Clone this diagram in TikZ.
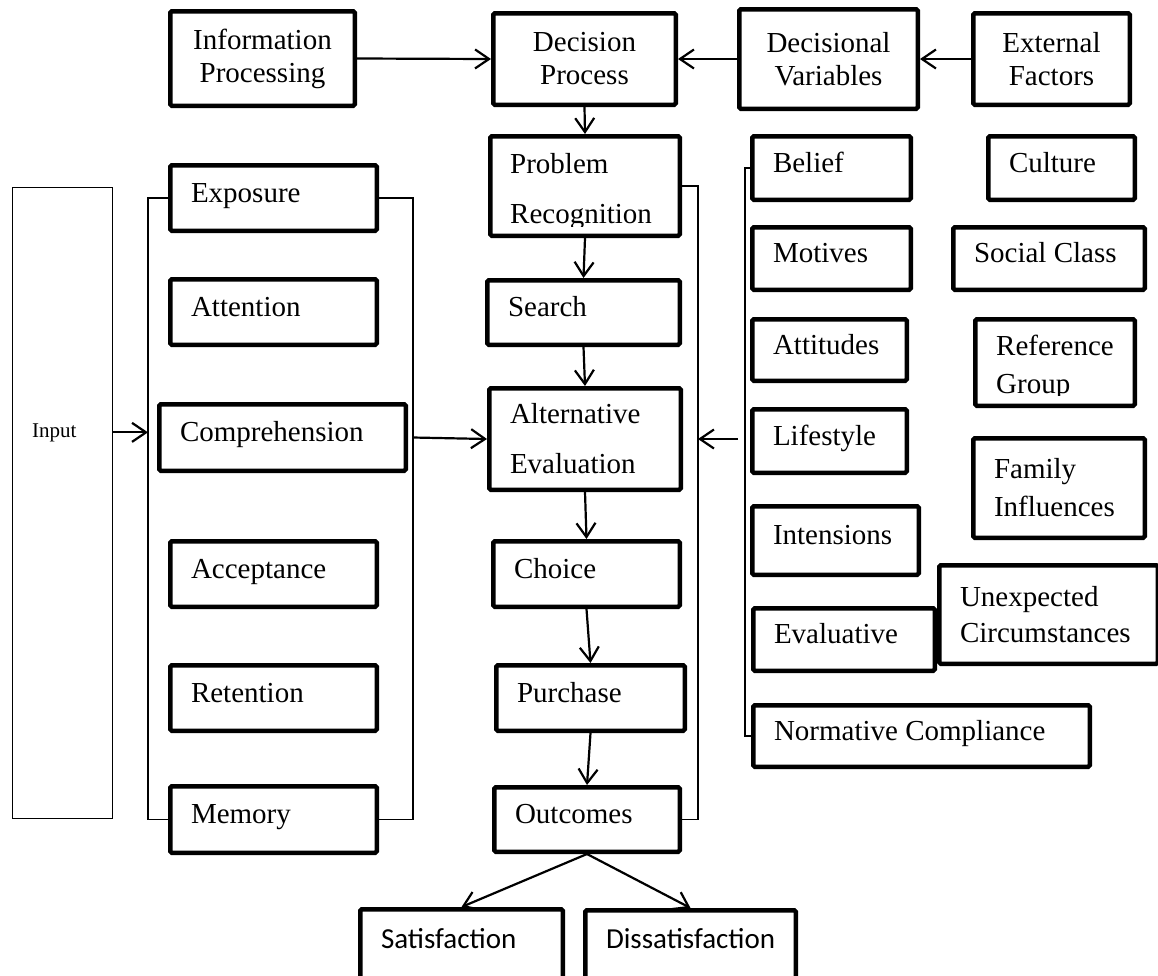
\documentclass[tikz,border=0pt]{standalone}
\usepackage{fontspec}
\setmainfont{Liberation Serif}
\newfontfamily\calib{Carlito}
\usetikzlibrary{arrows.meta}
\hyphenpenalty=10000
\exhyphenpenalty=10000

\tikzset{
  bx/.style={draw, line width=4.5pt, rounded corners=1.5pt, inner sep=0pt,
             font=\fontsize{29}{33}\selectfont, align=flush left},
  one/.style={text height=18pt, text depth=10pt},
  txt/.style={inner sep=0pt, font=\fontsize{29}{33}\selectfont},
  thinln/.style={line width=1.2pt},
  arr/.style={line width=2.2pt, -{Straight Barb[length=14pt,width=19pt]}},
}

% box given by its outer corners (x1,y1)-(x2,y2); text starts 23 units in
\newcommand\bxnode[7][]{%
  \pgfmathsetmacro\bxW{#5-#3-4.5}%
  \pgfmathsetmacro\bxH{#6-#4-4.5}%
  \pgfmathsetmacro\bxT{#5-#3-46}%
  \node[bx, minimum width=\bxW pt, minimum height=\bxH pt, text width=\bxT pt, #1]
    (#2) at ({(#3+#5)/2},{(#4+#6)/2}) {#7};}

\begin{document}
\begin{tikzpicture}[x=1pt,y=-1pt]
\useasboundingbox (0,0) rectangle (1158,975);

% guide positions of the bracket lines
\coordinate (lbL) at (148,0);
\coordinate (lbR) at (413,0);
\coordinate (pbR) at (698,0);
\coordinate (rbL) at (745,0);
\coordinate (rbs) at (738,0);

% top row
\bxnode[align=flush center]{ip}{168}{9}{357}{108}{Information\\Processing}
\bxnode[align=flush center]{dp}{491}{11}{678}{107}{Decision\\Process}
\bxnode[align=flush center]{dv}{737}{7}{920}{111}{Decisional\\Variables}
\bxnode[align=flush center]{ef}{971}{11}{1132}{107}{External\\Factors}

% input
\node[draw, thinln, minimum width=100pt, minimum height=631pt, inner sep=0pt]
  (inp) at (62.5,503) {};
\node[inner sep=0pt, anchor=base west, font=\fontsize{21}{25}\selectfont]
  (inlab) at (32,437) {Input};

% information processing stages
\bxnode[one]{exp}{168}{163}{379}{233}{Exposure}
\bxnode[one]{att}{168}{277}{379}{347}{Attention}
\bxnode[one]{comp}{157}{402}{408}{473}{Comprehension}
\bxnode[one]{acc}{168}{539}{379}{609}{Acceptance}
\bxnode[one]{ret}{168}{663}{379}{733}{Retention}
\bxnode[one]{mem}{168}{784}{379}{855}{Memory}

% decision process stages
\bxnode{pr}{488}{134}{682}{238}{}
\begin{scope}
  \clip (488,134) rectangle (682,226);
  \node[txt, anchor=base west] (prA) at (510,173) {Problem};
  \node[txt, anchor=base west] (prB) at (510,223) {Recognition};
\end{scope}
\bxnode[one]{se}{485}{278}{682}{347}{Search}
\bxnode[font=\fontsize{29}{50}\selectfont]{alt}{487}{386}{683}{492}{Alternative\\Evaluation}
\bxnode[one]{ch}{491}{539}{682}{609}{Choice}
\bxnode[one]{pu}{494}{663}{687}{733}{Purchase}
\bxnode[one]{oc}{492}{785}{682}{854}{Outcomes}

% decisional variables
\bxnode[one]{bel}{750}{134}{913}{202}{Belief}
\bxnode[one]{mot}{750}{225}{913}{292}{Motives}
\bxnode[one]{atd}{750}{317}{909}{383}{Attitudes}
\bxnode[one]{life}{750}{407}{909}{475}{Lifestyle}
\bxnode[one]{int}{750}{504}{921}{577}{Intensions}
\bxnode[one]{ev}{751}{606}{937}{673}{Evaluative}
\bxnode[one]{nc}{751}{703}{1092}{769}{Normative Compliance}

% external factors
\bxnode[one]{cul}{986}{134}{1137}{202}{Culture}
\bxnode[one]{sc}{951}{225}{1147}{292}{Social Class}
\bxnode{rg}{973}{317}{1137}{408}{}
\begin{scope}
  \clip (973,317) rectangle (1137,395);
  \node[txt, anchor=base west] (rgA) at (996,355) {Reference};
  \node[txt, anchor=base west] (rgB) at (996,393) {Group};
\end{scope}
\bxnode[font=\fontsize{29}{38}\selectfont]{fam}{971}{436}{1147}{540}{Family\\Influences}
\bxnode[font=\fontsize{29}{36}\selectfont]{uc}{937}{563}{1160}{666}{Unexpected\\Circumstances}

% outcomes
\bxnode[font=\calib\fontsize{29}{33}\selectfont, text height=10pt, text depth=16pt]{sat}{358}{907}{565}{995}{Satisfaction}
\bxnode[font=\calib\fontsize{29}{33}\selectfont, text height=10pt, text depth=16pt]{dis}{583}{908}{798}{995}{Dissatisfaction}

% bracket lines
\draw[thinln] (exp.west) -- (exp.west -| lbL) -- (mem.west -| lbL) -- (mem.west);
\draw[thinln] (exp.east) -- (exp.east -| lbR) -- (mem.east -| lbR) -- (mem.east);
\draw[thinln] (pr.east) -- (pr.east -| pbR) -- (oc.east -| pbR) -- (oc.east);
\draw[thinln] (bel.west) -- (bel.west -| rbL) -- (nc.west -| rbL) -- (nc.west);

% connectors
\draw[arr] (ip.east) -- (dp.west);
\draw[arr] (dv.west) -- (dp.east);
\draw[arr] (ef.west) -- (dv.east);
\draw[arr] (dp.south) -- (pr.north);
\draw[arr] (pr.south) -- (se.north);
\draw[arr] (se.south) -- (alt.north);
\draw[arr] (alt.south) -- (ch.north);
\draw[arr] (ch.south) -- (pu.north);
\draw[arr] (pu.south) -- (oc.north);
\draw[arr] (oc.south) -- (sat.north);
\draw[arr] (oc.south) -- (dis.north);
\draw[arr] (inlab -| inp.east) -- (inlab -| lbL);
\draw[arr] (comp.east -| lbR) -- (alt.west);
\draw[arr] (alt.center -| rbs) -- (alt.center -| pbR);
\end{tikzpicture}
\end{document}
